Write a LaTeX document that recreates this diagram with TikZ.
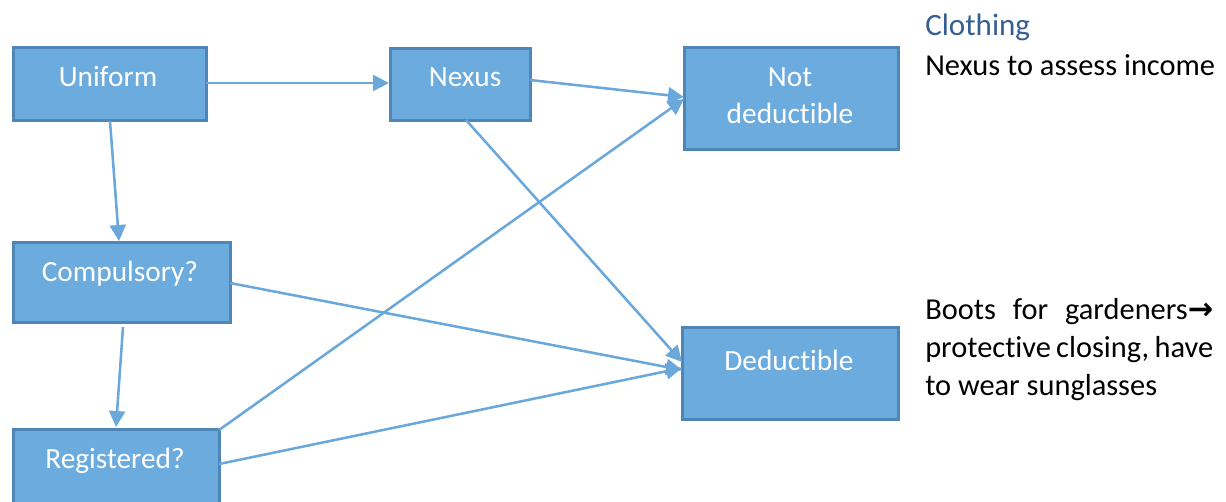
\documentclass[tikz,border=0pt]{standalone}
\usepackage{fontspec}
\setmainfont[Ligatures=NoCommon]{Carlito}
\newfontfamily\symfont{DejaVu Sans}
\usetikzlibrary{arrows.meta}
\definecolor{boxfill}{RGB}{108,171,221}
\definecolor{boxline}{RGB}{80,134,182}
\definecolor{arrowc}{RGB}{106,168,220}
\definecolor{headc}{RGB}{54,95,145}
\tikzset{
  box/.style={draw=boxline, line width=2.2pt, fill=boxfill, inner sep=0pt, anchor=north west},
  lbl/.style={text=white, font=\fontsize{22}{26}\selectfont, inner sep=0pt, anchor=base},
  conn/.style={draw=arrowc, line width=1.9pt, -{Triangle[length=12pt,width=12pt]}},
  side/.style={font=\fontsize{22.8}{28.5}\selectfont, inner sep=0pt, anchor=base west, text=black}
}
\begin{document}
\begin{tikzpicture}[x=0.75pt,y=-0.75pt]
\useasboundingbox (0,0) rectangle (1226,501);
\clip (0,0) rectangle (1226,501);
% boxes
\node[box, minimum width=193*0.75pt, minimum height=73*0.75pt] (uni) at (12,46) {};
\node[box, minimum width=140*0.75pt, minimum height=72*0.75pt] (nex) at (389,47) {};
\node[box, minimum width=214*0.75pt, minimum height=102*0.75pt] (nd) at (683,46) {};
\node[box, minimum width=217*0.75pt, minimum height=80*0.75pt] (com) at (12,241) {};
\node[box, minimum width=206*0.75pt, minimum height=100*0.75pt] (reg) at (12,428) {};
\node[box, minimum width=216*0.75pt, minimum height=92*0.75pt] (ded) at (681,326) {};
% labels
\node[lbl] (tuni) at (108,86) {Uniform};
\node[lbl] (tnex) at (465,86) {Nexus};
\node[lbl] (tnd1) at (790,86) {Not};
\node[lbl] (tnd2) at (790,123) {deductible};
\node[lbl] (tcom) at (120,281) {Compulsory?};
\node[lbl] (treg) at (115,468) {Registered?};
\node[lbl] (tded) at (789,370) {Deductible};
% connectors
\coordinate (a1) at (206,83); \coordinate (a1e) at (389,83);
\draw[conn] (a1) -- (a1e);
\coordinate (a2) at (110,121); \coordinate (a2e) at (119,241);
\draw[conn] (a2) -- (a2e);
\coordinate (a3) at (123,327); \coordinate (a3e) at (116,427);
\draw[conn] (a3) -- (a3e);
\coordinate (a4) at (230,283); \coordinate (a4e) at (682,370);
\draw[conn] (a4) -- (a4e);
\coordinate (a5) at (219,464); \coordinate (a5e) at (682,368);
\draw[conn] (a5) -- (a5e);
\coordinate (a6) at (219,430); \coordinate (a6e) at (684,99);
\draw[conn] (a6) -- (a6e);
\coordinate (a7) at (530,80); \coordinate (a7e) at (684,97);
\draw[conn] (a7) -- (a7e);
\coordinate (a8) at (466,120); \coordinate (a8e) at (682,362);
\draw[conn] (a8) -- (a8e);
% side texts
\node[side, text=headc, font=\fontsize{23.3}{26}\selectfont] (clo) at (925,35) {Clothing};
\node[side] (nti) at (925,75) {Nexus to assess income};
\node[side] (b1) at (925,319) {\makebox[216pt][s]{Boots for gardeners{\symfont\bfseries →}}};
\node[side] (b2) at (925,357) {\makebox[216pt][s]{protective closing, have}};
\node[side] (b3) at (925,395) {to wear sunglasses};
\end{tikzpicture}
\end{document}
